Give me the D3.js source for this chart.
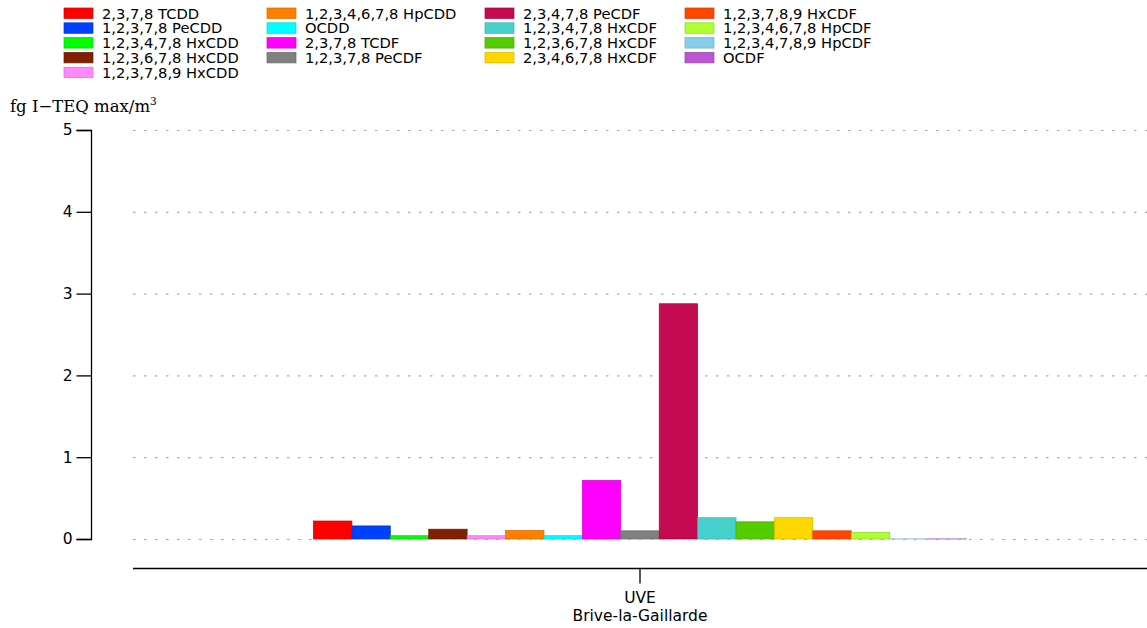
<!DOCTYPE html>
<html><head><meta charset="utf-8">
<script src="https://cdn.jsdelivr.net/npm/d3@7"></script>
<style>body{margin:0;background:#fff}svg{display:block}</style>
</head><body>
<svg id="c" width="1147" height="628"></svg>
<script>
const categories = ["UVE\nBrive-la-Gaillarde"];
const seriesNames = ["2,3,7,8 TCDD","1,2,3,7,8 PeCDD","1,2,3,4,7,8 HxCDD","1,2,3,6,7,8 HxCDD","1,2,3,7,8,9 HxCDD",
  "1,2,3,4,6,7,8 HpCDD","OCDD","2,3,7,8 TCDF","1,2,3,7,8 PeCDF",
  "2,3,4,7,8 PeCDF","1,2,3,4,7,8 HxCDF","1,2,3,6,7,8 HxCDF","2,3,4,6,7,8 HxCDF",
  "1,2,3,7,8,9 HxCDF","1,2,3,4,6,7,8 HpCDF","1,2,3,4,7,8,9 HpCDF","OCDF"];
const seriesValues = [0.22,0.16,0.04,0.12,0.04,0.105,0.04,0.716,0.1,2.876,0.26,0.21,0.26,0.1,0.08,0.001,0.001];
const seriesColors = ["#ff0000","#0040ff","#00ff00","#802000","#ff88ff","#ff8000","#00ffff","#ff00ff","#808080",
  "#c40a50","#48d1cc","#55cc00","#ffd700","#ff4500","#adff2f","#87ceeb","#ba55d3"];
const yTicks = [0,1,2,3,4,5];

const svg = d3.select("#c");
const y = d3.scaleLinear().domain([0,5]).range([539,130]);
const x0 = d3.scaleBand().domain(categories).range([133,1147]).paddingInner(0).paddingOuter(0.2764);
const x1 = d3.scaleBand().domain(seriesNames).range([0, x0.bandwidth()]).padding(0);

// gridlines
svg.append("g").selectAll("line").data(yTicks).join("line")
  .attr("x1",133).attr("x2",1147).attr("y1",d=>y(d)+0.5).attr("y2",d=>y(d)+0.5)
  .attr("stroke","#aaa").attr("stroke-width",1.2).attr("stroke-dasharray","2.5,8.5");

// bars
const g = svg.append("g");
categories.forEach(c=>{
  g.selectAll("rect.b").data(seriesNames.map((s,i)=>({s,i,v:seriesValues[i]}))).join("rect")
   .attr("class","b")
   .attr("x",d=>x0(c)+x1(d.s)).attr("width",x1.bandwidth())
   .attr("y",d=>y(d.v)).attr("height",d=>y(0)-y(d.v))
   .attr("fill",d=>seriesColors[d.i])
   .attr("stroke",d=>d3.color(seriesColors[d.i]).darker(0.5)).attr("stroke-width",0.7);
});
svg.append("line").attr("x1",133).attr("x2",1147).attr("y1",y(0)+0.5).attr("y2",y(0)+0.5)
  .attr("stroke","#aaa").attr("stroke-width",1.2).attr("stroke-dasharray","2.5,8.5");

// y axis
const ya = svg.append("g").attr("transform","translate(91.5,0)")
  .call(d3.axisLeft(y).tickValues(yTicks).tickSize(15).tickPadding(4).tickFormat(d3.format("d")));
ya.select(".domain").attr("d","M-15,"+(y(5)+0.5)+"H0V"+(y(0)+0.5)+"H-15").attr("stroke","#000").attr("stroke-width",1.3);
ya.selectAll("text").attr("font-family","DejaVu Sans").attr("font-size",15.5).attr("fill","#000");
ya.selectAll(".tick line").attr("stroke","#000").attr("stroke-width",1.3);

// x axis
const xa = svg.append("g").attr("transform","translate(0,568.5)")
  .call(d3.axisBottom(x0).tickSize(15).tickFormat(""));
xa.select(".domain").attr("d","M133,0H1147").attr("stroke","#000").attr("stroke-width",1.3);
xa.selectAll(".tick line").attr("stroke","#000").attr("stroke-width",1.3);
xa.selectAll(".tick").each(function(d){
  const t = d3.select(this).append("text").attr("fill","#000").attr("font-family","DejaVu Sans")
    .attr("font-size",15.5).attr("text-anchor","middle");
  d.split("\n").forEach((line,k)=>t.append("tspan").attr("x",0).attr("y",34+k*18).text(line));
});

// y label
const yl = svg.append("text").attr("x",10).attr("y",112).attr("font-family","DejaVu Serif")
  .attr("font-size",16.5).attr("fill","#000");
yl.append("tspan").text("fg I\u2212TEQ max/m");
yl.append("tspan").attr("dy",-7).attr("font-size",10.5).text("3");

// legend
const colX = [64,267,485,685];
const perCol = [5,4,4,4];
let idx = 0;
const lg = svg.append("g");
perCol.forEach((n,ci)=>{
  for(let r=0;r<n;r++){
    const i = idx++;
    const yy = 8 + r*14.8;
    lg.append("rect").attr("x",colX[ci]).attr("y",yy).attr("width",29).attr("height",10.5)
      .attr("fill",seriesColors[i]).attr("stroke",d3.color(seriesColors[i]).darker(0.5)).attr("stroke-width",0.7);
    lg.append("text").attr("x",colX[ci]+38).attr("y",yy+10.5).attr("font-family","DejaVu Sans")
      .attr("font-size",14.7).attr("fill","#000").text(seriesNames[i]);
  }
});
</script>
</body></html>
